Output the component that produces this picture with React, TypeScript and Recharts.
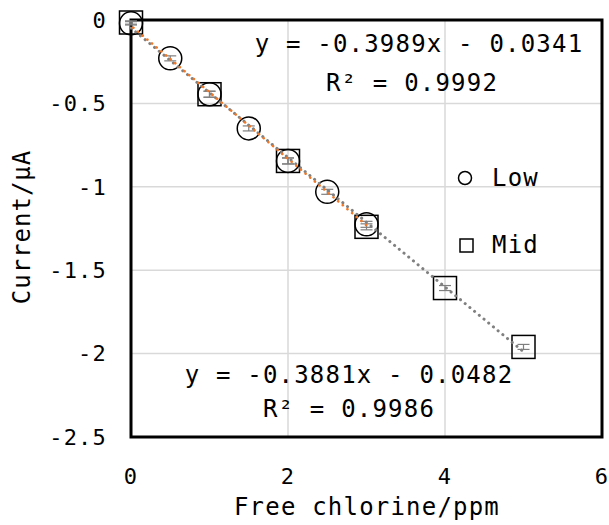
import React from 'react';
import {
  ScatterChart,
  Scatter,
  XAxis,
  YAxis,
  CartesianGrid,
  ErrorBar,
  ReferenceArea,
} from 'recharts';

const FONT = '"DejaVu Sans Mono", "Liberation Mono", monospace';

// ---- data ----
const lowX = [0, 0.5, 1, 1.5, 2, 2.5, 3];
const lowY = [-0.02, -0.23, -0.445, -0.65, -0.845, -1.03, -1.225];
const lowErr = [0.01, 0.015, 0.018, 0.015, 0.018, 0.015, 0.018];

const midX = [0, 1, 2, 3, 4, 5];
const midY = [-0.015, -0.445, -0.845, -1.24, -1.607, -1.96];
const midErr = [0.01, 0.018, 0.018, 0.018, 0.015, 0.015];

const xTicks = [0, 2, 4, 6];
const yTicks = [0, -0.5, -1, -1.5, -2, -2.5];

// trendline coefficients (as printed on the chart)
const lowSlope = -0.3989;
const lowIntercept = -0.0341;
const lowR2 = '0.9992';
const midSlope = -0.3881;
const midIntercept = -0.0482;
const midR2 = '0.9986';

const lowData = lowX.map((x, i) => ({ x, y: lowY[i], err: lowErr[i] }));
const midData = midX.map((x, i) => ({ x, y: midY[i], err: midErr[i] }));

const lowLine = [
  { x: lowX[0], y: lowIntercept + lowSlope * lowX[0] },
  { x: lowX[lowX.length - 1], y: lowIntercept + lowSlope * lowX[lowX.length - 1] },
];
const midLine = [
  { x: midX[0], y: midIntercept + midSlope * midX[0] },
  { x: midX[midX.length - 1], y: midIntercept + midSlope * midX[midX.length - 1] },
];

const fmt = (v: number) => (v < 0 ? '-' + Math.abs(v).toFixed(4) : v.toFixed(4));
const eq = (m: number, b: number) =>
  `y = ${fmt(m)}x ${b < 0 ? '-' : '+'} ${Math.abs(b).toFixed(4)}`;

const CircleShape = (props: any) => (
  <circle cx={props.cx} cy={props.cy} r={11.5} fill="none" stroke="#000" strokeWidth={1.5} />
);
const SquareShape = (props: any) => (
  <rect
    x={props.cx - 11.5}
    y={props.cy - 11.5}
    width={23}
    height={23}
    fill="none"
    stroke="#000"
    strokeWidth={1.5}
  />
);
const EmptyShape = () => <g />;

const W = 609;
const H = 525;

const textStyle: React.CSSProperties = { fontFamily: FONT, letterSpacing: '1.2px' };
const tickStyle = { fill: '#000', fontSize: 22, fontFamily: FONT, letterSpacing: '1.2px' };

export default function App() {
  return (
    <div style={{ position: 'absolute', left: 0, top: 0, width: W, height: H, background: '#fff' }}>
      <ScatterChart
        width={W}
        height={H}
        margin={{ top: 20, right: 7, bottom: 0, left: 0 }}
      >
        <CartesianGrid stroke="#d9d9d9" strokeWidth={1.5} />
        <XAxis
          type="number"
          dataKey="x"
          domain={[0, 6]}
          ticks={xTicks}
          axisLine={false}
          tickLine={false}
          height={88}
          tickMargin={25}
          tick={tickStyle}
          interval={0}
        />
        <YAxis
          type="number"
          dataKey="y"
          domain={[-2.5, 0]}
          ticks={yTicks}
          axisLine={false}
          tickLine={false}
          width={131}
          tickMargin={18}
          tick={tickStyle}
          interval={0}
        />
        <ReferenceArea
          x1={0}
          x2={6}
          y1={-2.5}
          y2={0}
          fill="none"
          fillOpacity={0}
          stroke="#000"
          strokeWidth={3}
          ifOverflow="visible"
        />
        <Scatter data={midData} shape={<SquareShape />} isAnimationActive={false}>
          <ErrorBar dataKey="err" direction="y" width={6} stroke="#7f7f7f" strokeWidth={1.2} />
        </Scatter>
        <Scatter data={lowData} shape={<CircleShape />} isAnimationActive={false}>
          <ErrorBar dataKey="err" direction="y" width={6} stroke="#7f7f7f" strokeWidth={1.2} />
        </Scatter>
        <Scatter
          data={midLine}
          shape={<EmptyShape />}
          line={{
            stroke: '#808080',
            strokeWidth: 3,
            strokeDasharray: '0.1 6',
            strokeLinecap: 'round',
          }}
          lineType="joint"
          legendType="none"
          isAnimationActive={false}
        />
        <Scatter
          data={lowLine}
          shape={<EmptyShape />}
          line={{
            stroke: '#F07828',
            strokeWidth: 2.6,
            strokeDasharray: '0.1 6',
            strokeDashoffset: 3,
            strokeLinecap: 'round',
          }}
          lineType="joint"
          legendType="none"
          isAnimationActive={false}
        />
      </ScatterChart>
      <svg
        width={W}
        height={H}
        style={{ position: 'absolute', left: 0, top: 0, pointerEvents: 'none' }}
      >
        <text x={419} y={52} fontSize={24} textAnchor="middle" style={textStyle} fill="#000">
          {eq(lowSlope, lowIntercept)}
        </text>
        <text x={412} y={91} fontSize={24} textAnchor="middle" style={textStyle} fill="#000">
          {`R² = ${lowR2}`}
        </text>
        <text x={349} y={383} fontSize={24} textAnchor="middle" style={textStyle} fill="#000">
          {eq(midSlope, midIntercept)}
        </text>
        <text x={349} y={417} fontSize={24} textAnchor="middle" style={textStyle} fill="#000">
          {`R² = ${midR2}`}
        </text>

        <circle cx={465} cy={178} r={6.5} fill="#fff" stroke="#000" strokeWidth={1.5} />
        <text x={492} y={186} fontSize={24} style={textStyle} fill="#000">Low</text>
        <rect x={460} y={239} width={13} height={13} fill="#fff" stroke="#000" strokeWidth={1.5} />
        <text x={492} y={253} fontSize={24} style={textStyle} fill="#000">Mid</text>

        <text x={367} y={515} fontSize={24} textAnchor="middle" style={textStyle} fill="#000">
          Free chlorine/ppm
        </text>
        <text
          x={0}
          y={0}
          fontSize={24}
          textAnchor="middle"
          style={{ fontFamily: FONT, letterSpacing: '1px' }}
          fill="#000"
          transform="translate(30 227) rotate(-90)"
        >
          Current/μA
        </text>
      </svg>
    </div>
  );
}
